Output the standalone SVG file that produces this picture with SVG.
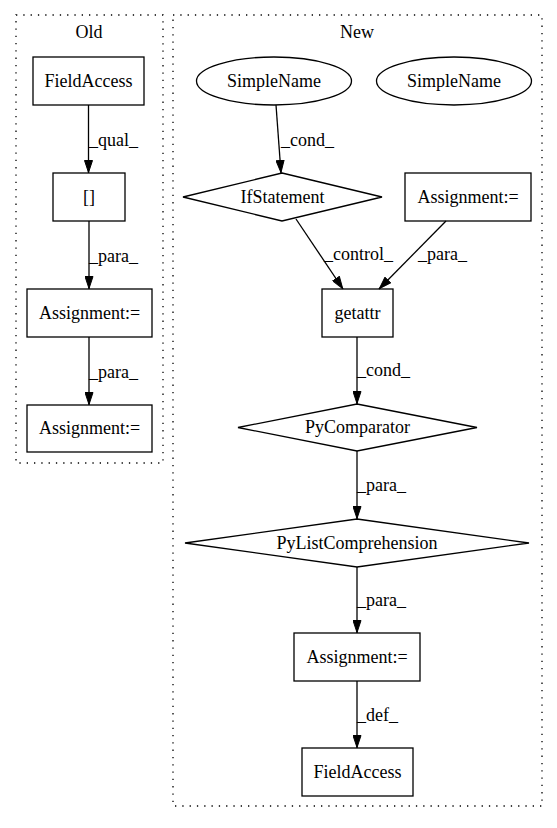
<svg xmlns="http://www.w3.org/2000/svg" width="557" height="828" viewBox="0 0 557 828">
<defs>
<marker id="ah" markerWidth="13" markerHeight="9" refX="13" refY="4.5" orient="auto" markerUnits="userSpaceOnUse">
<polygon points="0.5,0.5 12.5,4.5 0.5,8.5" fill="#000" stroke="#000"/>
</marker>
<style>
text{font-family:"Liberation Serif","Times New Roman",serif;font-size:18px;fill:#000}
.n{text-anchor:middle}
.shape{fill:none;stroke:#000;stroke-width:1.3}
.cl{fill:none;stroke:#000;stroke-width:1.3;stroke-dasharray:1.3,6}
.e{fill:none;stroke:#000;stroke-width:1.3;marker-end:url(#ah)}
</style>
</defs>
<rect width="557" height="828" fill="#fff"/>
<g id="cluster_old">
<rect class="cl" x="16" y="15" width="147" height="448"/>
<text class="n" x="89" y="38">Old</text>
</g>
<g id="cluster_new">
<rect class="cl" x="173" y="15" width="369" height="791"/>
<text class="n" x="357" y="38">New</text>
</g>
<g id="old_fieldaccess"><rect class="shape" x="33" y="57" width="111" height="48"/><text class="n" x="88.5" y="87">FieldAccess</text></g>
<g id="old_index"><rect class="shape" x="53" y="173" width="72" height="48"/><text class="n" x="89" y="203">[]</text></g>
<g id="old_assign1"><rect class="shape" x="27" y="289" width="125" height="48"/><text class="n" x="89.5" y="319">Assignment:=</text></g>
<g id="old_assign2"><rect class="shape" x="27" y="405" width="125" height="47"/><text class="n" x="89.5" y="434">Assignment:=</text></g>
<g id="new_simplename1"><ellipse class="shape" cx="274" cy="81" rx="77.5" ry="24"/><text class="n" x="274" y="87">SimpleName</text></g>
<g id="new_simplename2"><ellipse class="shape" cx="454" cy="81" rx="77.5" ry="24"/><text class="n" x="454" y="87">SimpleName</text></g>
<g id="new_if"><polygon class="shape" points="282,173 382,197 282,221 183,197"/><text class="n" x="282.5" y="203">IfStatement</text></g>
<g id="new_assign_top"><rect class="shape" x="405" y="173" width="126" height="48"/><text class="n" x="468" y="203">Assignment:=</text></g>
<g id="new_getattr"><rect class="shape" x="322" y="289" width="71" height="48"/><text class="n" x="357.5" y="319">getattr</text></g>
<g id="new_pycomparator"><polygon class="shape" points="357,404 477,427.5 357,451 238,427.5"/><text class="n" x="357.5" y="433">PyComparator</text></g>
<g id="new_pylistcomp"><polygon class="shape" points="357,519 529,543 357,567 185,543"/><text class="n" x="357" y="549">PyListComprehension</text></g>
<g id="new_assign_bottom"><rect class="shape" x="294" y="633" width="126" height="48"/><text class="n" x="357" y="663">Assignment:=</text></g>
<g id="new_fieldaccess"><rect class="shape" x="302" y="748" width="111" height="48"/><text class="n" x="357.5" y="778">FieldAccess</text></g>
<g id="edges">
<line class="e" x1="88.5" y1="105" x2="88.5" y2="173"/>
<text x="89" y="146">_qual_</text>
<line class="e" x1="89" y1="221" x2="89" y2="289"/>
<text x="89" y="262">_para_</text>
<line class="e" x1="89" y1="337" x2="89" y2="405"/>
<text x="89" y="378">_para_</text>
<path class="e" d="M276,105 L281,173"/>
<text x="281" y="146">_cond_</text>
<path class="e" d="M296,219 L343,289"/>
<text x="324" y="260">_control_</text>
<path class="e" d="M446,221 L379,289"/>
<text x="418" y="260">_para_</text>
<line class="e" x1="357" y1="337" x2="357" y2="404"/>
<text x="357" y="376">_cond_</text>
<line class="e" x1="357" y1="451" x2="357" y2="519"/>
<text x="357" y="491">_para_</text>
<line class="e" x1="357" y1="567" x2="357" y2="633"/>
<text x="357" y="606">_para_</text>
<line class="e" x1="357" y1="681" x2="357" y2="748"/>
<text x="357" y="721">_def_</text>
</g>
</svg>
